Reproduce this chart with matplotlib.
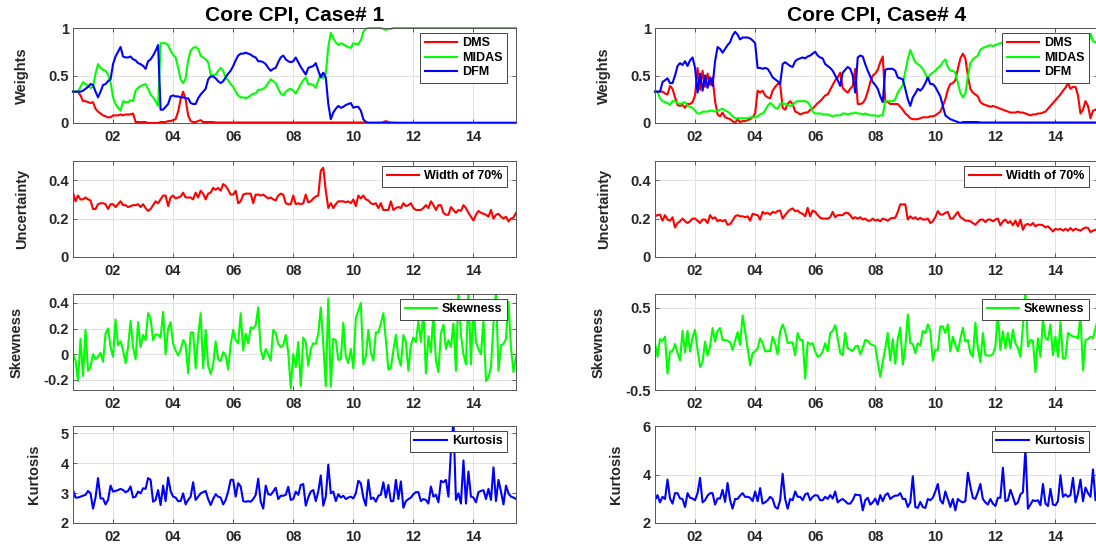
import numpy as np
import matplotlib.pyplot as plt

plt.rcParams['font.family'] = ['Liberation Sans', 'DejaVu Sans']
plt.rcParams['font.weight'] = 'bold'
plt.rcParams['axes.labelweight'] = 'bold'

# monthly data, Sep 2000 .. Jun 2015
START_YEAR = 2000
START_MONTH = 9

# ---------------- Case 1 ----------------
dms_1 = [
    .33, .33, .33, .29, .23, .23, .22, .21, .22, .15,
    .12, .10, .08, .07, .06, .06, .08, .08, .08, .09,
    .08, .09, .09, .09, .10, .01, .01, .01, .01, .01,
    .00, .00, .00, .00, .00, .01, .01, .01, .02, .02,
    .03, .04, .12, .25, .33, .25, .08, .02, .01, .01,
    .02, .03, .01, .01, .01, .01, .01, .005, .005, .005,
    .005, .005, .005, .005, .005, .005, .005, .005, .005, .005,
    .005, .005, .005, .005, .005, .005, .005, .005, .005, .005,
    .005, .005, .005, .005, .005, .005, .005, .005, .005, .005,
    .005, .005, .005, .005, .005, .005, .005, .005, .005, .005,
    .005, .005, .005, .005, .005, .005, .005, .005, .005, .005,
    .005, .005, .005, .005, .005, .005, .005, .005, .005, .005,
    .005, .005, .005, .005, .01, .02, .01, .005, .005, .005,
    .003, .003, .003, .003, .003, .003, .003, .003, .003, .003,
    .003, .003, .003, .003, .003, .003, .003, .003, .003, .003,
    .003, .003, .003, .003, .003, .003, .003, .003, .003, .003,
    .003, .003, .003, .003, .003, .003, .003, .003, .003, .003,
    .003, .003, .003, .003, .003, .003, .003, .003,
]
midas_1 = [
    .33, .33, .33, .38, .43, .41, .39, .37, .38, .52,
    .62, .58, .56, .55, .51, .43, .27, .20, .16, .13,
    .23, .22, .22, .24, .23, .34, .37, .39, .40, .41,
    .36, .30, .27, .23, .18, .84, .84, .84, .82, .76,
    .72, .69, .58, .46, .42, .47, .66, .76, .79, .80,
    .78, .71, .69, .67, .64, .51, .50, .51, .55, .58,
    .55, .48, .45, .41, .38, .33, .29, .27, .27, .26,
    .27, .29, .31, .31, .35, .35, .36, .38, .42, .46,
    .44, .42, .36, .31, .29, .33, .35, .36, .34, .31,
    .36, .41, .45, .48, .41, .41, .40, .37, .45, .51,
    .47, .52, .80, .95, .89, .85, .82, .84, .83, .81,
    .80, .79, .84, .83, .83, .87, .96, .99, 1.0, 1.0,
    1.0, 1.0, 1.0, 1.0, .99, .98, .99, .99, 1.0, 1.0,
    1.0, 1.0, 1.0, 1.0, 1.0, 1.0, 1.0, 1.0, 1.0, 1.0,
    1.0, 1.0, 1.0, 1.0, 1.0, 1.0, 1.0, 1.0, 1.0, 1.0,
    1.0, 1.0, 1.0, 1.0, 1.0, 1.0, 1.0, 1.0, 1.0, 1.0,
    1.0, 1.0, 1.0, 1.0, 1.0, 1.0, 1.0, 1.0, 1.0, 1.0,
    1.0, 1.0, 1.0, 1.0, 1.0, 1.0, 1.0, 1.0,
]
dfm_1 = [
    .33, .33, .33, .33, .34, .36, .38, .41, .40, .33,
    .27, .33, .40, .41, .44, .46, .62, .70, .75, .80,
    .70, .69, .69, .70, .67, .66, .63, .62, .60, .57,
    .65, .67, .71, .76, .82, .14, .14, .17, .20, .28,
    .29, .28, .28, .27, .27, .26, .26, .21, .20, .20,
    .26, .30, .33, .36, .46, .49, .49, .47, .44, .42,
    .44, .48, .52, .55, .60, .66, .71, .73, .73, .74,
    .73, .72, .70, .69, .65, .65, .64, .62, .58, .55,
    .57, .58, .64, .69, .71, .67, .65, .64, .65, .69,
    .64, .59, .55, .51, .58, .59, .60, .63, .55, .48,
    .53, .48, .20, .04, .11, .15, .18, .16, .17, .19,
    .20, .21, .16, .17, .17, .13, .04, .01, 0.0, 0.0,
    0.0, 0.0, 0.0, 0.0, 0.0, 0.0, 0.0, 0.0, 0.0, 0.0,
    0.0, 0.0, 0.0, 0.0, 0.0, 0.0, 0.0, 0.0, 0.0, 0.0,
    0.0, 0.0, 0.0, 0.0, 0.0, 0.0, 0.0, 0.0, 0.0, 0.0,
    0.0, 0.0, 0.0, 0.0, 0.0, 0.0, 0.0, 0.0, 0.0, 0.0,
    0.0, 0.0, 0.0, 0.0, 0.0, 0.0, 0.0, 0.0, 0.0, 0.0,
    0.0, 0.0, 0.0, 0.0, 0.0, 0.0, 0.0, 0.0,
]
width_1 = [
    .335, .29, .32, .30, .30, .31, .30, .295, .25, .25,
    .275, .28, .28, .275, .25, .275, .275, .26, .275, .29,
    .27, .27, .26, .265, .27, .27, .275, .26, .275, .255,
    .24, .25, .27, .29, .28, .30, .32, .32, .265, .31,
    .32, .305, .31, .315, .335, .31, .31, .31, .30, .335,
    .31, .345, .33, .30, .33, .335, .36, .35, .36, .345,
    .38, .37, .35, .325, .325, .345, .28, .29, .325, .33,
    .33, .33, .28, .325, .325, .32, .325, .315, .305, .31,
    .30, .295, .32, .33, .325, .28, .275, .275, .32, .275,
    .28, .275, .28, .325, .285, .29, .305, .315, .32, .45,
    .465, .345, .255, .28, .255, .275, .29, .29, .29, .285,
    .29, .28, .30, .265, .32, .305, .32, .30, .295, .28,
    .275, .28, .255, .28, .245, .245, .245, .29, .245, .255,
    .26, .255, .28, .265, .27, .28, .255, .245, .245, .245,
    .255, .27, .255, .29, .27, .245, .27, .27, .23, .22,
    .22, .26, .245, .23, .245, .24, .27, .255, .23, .21,
    .19, .22, .24, .23, .225, .22, .21, .245, .20, .22,
    .225, .21, .20, .21, .185, .20, .205, .23,
]
skew_1 = [
    0.0, -0.05, -0.21, 0.12, -0.17, 0.19, -0.13, -0.10, 0.0, -0.04,
    -0.02, 0.01, -0.06, 0.16, 0.20, 0.055, -0.02, 0.27, 0.07, 0.10,
    0.03, -0.07, 0.055, 0.26, 0.055, -0.04, 0.25, 0.055, 0.15, 0.11,
    0.32, 0.28, 0.11, 0.155, 0.15, 0.13, 0.33, 0.0, 0.20, 0.25,
    0.08, 0.03, -0.01, 0.03, 0.11, 0.08, -0.15, 0.17, 0.17, -0.11,
    0.14, 0.32, -0.11, 0.19, -0.09, -0.155, -0.08, 0.10, -0.04, -0.055,
    0.015, -0.01, -0.12, 0.075, 0.19, 0.11, 0.085, 0.32, 0.03, 0.16,
    0.085, 0.21, 0.20, 0.225, 0.365, 0.035, -0.04, 0.04, 0.0, -0.05,
    0.19, 0.165, 0.08, 0.055, 0.07, 0.15, 0.015, -0.265, 0.0, -0.10,
    0.095, -0.25, 0.13, 0.095, -0.09, 0.04, 0.085, 0.08, 0.16, 0.365,
    0.08, -0.25, 0.435, -0.255, 0.12, 0.11, -0.045, -0.04, 0.245, -0.02,
    -0.07, 0.04, -0.11, 0.28, 0.34, 0.40, -0.08, -0.02, 0.19, 0.015,
    -0.05, 0.17, 0.17, 0.24, 0.32, 0.11, -0.12, -0.11, 0.03, 0.15,
    -0.025, -0.09, 0.15, 0.095, -0.13, 0.07, 0.13, 0.095, 0.26, 0.095,
    0.34, -0.15, 0.14, 0.015, 0.32, -0.05, -0.14, 0.16, 0.23, 0.04,
    0.11, 0.055, 0.24, -0.13, 0.50, 0.15, 0.0, -0.08, 0.50, -0.08,
    0.40, 0.095, 0.04, 0.0, 0.265, -0.21, -0.18, -0.10, 0.24, 0.50,
    -0.13, 0.07, 0.08, 0.12, 0.41, 0.05, -0.14, -0.02,
]
kurt_1 = [
    3.10, 2.85, 2.85, 2.88, 2.91, 2.94, 3.07, 2.99, 2.48, 2.85,
    3.50, 2.82, 2.82, 2.62, 2.77, 3.25, 3.05, 3.07, 3.10, 3.14,
    3.10, 3.03, 3.07, 3.22, 2.85, 2.88, 3.05, 2.99, 3.16, 3.14,
    3.50, 3.44, 2.71, 2.77, 3.10, 2.60, 3.25, 2.73, 3.52, 3.07,
    2.88, 2.85, 2.73, 2.73, 2.99, 2.62, 2.77, 2.88, 3.36, 2.77,
    2.88, 2.99, 3.03, 3.07, 2.80, 2.60, 2.80, 2.96, 2.88, 2.85,
    2.62, 2.77, 3.05, 3.44, 3.44, 2.88, 3.33, 3.22, 2.73, 2.71,
    2.73, 2.71, 2.80, 2.94, 3.48, 2.71, 2.48, 3.25, 2.96, 2.94,
    3.05, 3.18, 2.80, 2.91, 2.91, 2.94, 3.21, 2.77, 2.80, 3.05,
    2.94, 3.27, 3.30, 2.58, 2.85, 3.05, 3.10, 2.73, 3.05, 3.59,
    2.58, 2.88, 3.95, 2.99, 3.05, 2.73, 2.96, 2.85, 2.91, 2.80,
    2.85, 2.88, 2.82, 2.99, 3.41, 3.33, 2.85, 2.58, 3.44, 2.80,
    2.85, 2.71, 2.91, 2.94, 3.36, 2.85, 3.27, 2.73, 2.73, 3.44,
    2.80, 3.39, 2.51, 2.73, 2.80, 2.85, 2.96, 3.03, 3.03, 2.73,
    2.80, 2.77, 2.65, 3.22, 2.88, 2.94, 2.69, 3.41, 3.36, 3.44,
    2.88, 4.40, 5.40, 2.77, 2.99, 2.65, 4.09, 2.65, 3.72, 2.88,
    2.85, 2.69, 3.03, 3.07, 3.10, 2.80, 3.14, 2.77, 3.86, 2.73,
    3.44, 3.05, 2.62, 3.25, 2.99, 2.88, 2.85, 2.80,
]

# ---------------- Case 4 ----------------
dms_4 = [
    .33, .33, .33, .33, .31, .30, .39, .36, .27, .19,
    .18, .19, .16, .20, .20, .22, .29, .58, .35, .55,
    .38, .52, .40, .48, .23, .09, .07, .11, .06, .05,
    .04, .02, .00, .04, .01, .02, .02, .03, .04, .06,
    .10, .34, .32, .34, .29, .27, .26, .34, .38, .41,
    .41, .16, .14, .20, .23, .20, .12, .11, .09, .10,
    .11, .11, .14, .15, .18, .21, .23, .26, .29, .30,
    .35, .40, .45, .48, .53, .37, .34, .32, .36, .39,
    .57, .20, .20, .21, .25, .33, .43, .50, .52, .56,
    .64, .70, .23, .22, .20, .20, .20, .20, .17, .14,
    .10, .08, .05, .04, .04, .04, .05, .06, .06, .06,
    .07, .07, .08, .10, .12, .18, .25, .35, .41, .42,
    .45, .57, .68, .73, .68, .50, .36, .32, .30, .28,
    .22, .20, .19, .18, .17, .18, .17, .16, .15, .14,
    .13, .12, .11, .11, .11, .12, .11, .11, .10, .09,
    .08, .09, .09, .10, .10, .11, .12, .15, .18, .21,
    .24, .27, .30, .34, .37, .42, .36, .38, .38, .29,
    .10, .14, .23, .18, .05, .13, .14, .16,
]
midas_4 = [
    .33, .33, .26, .23, .22, .21, .19, .23, .23, .21,
    .20, .21, .22, .18, .17, .16, .13, .10, .10, .12,
    .12, .12, .13, .13, .12, .13, .14, .15, .13, .12,
    .10, .07, .05, .05, .05, .05, .05, .05, .06, .06,
    .06, .07, .09, .10, .13, .18, .21, .19, .16, .15,
    .20, .21, .20, .19, .18, .19, .22, .23, .23, .23,
    .23, .22, .18, .12, .10, .10, .10, .09, .09, .09,
    .08, .07, .08, .08, .08, .10, .10, .09, .10, .10,
    .11, .10, .10, .09, .10, .09, .08, .08, .08, .07,
    .08, .08, .23, .23, .23, .23, .25, .32, .36, .40,
    .54, .67, .77, .70, .64, .62, .60, .57, .52, .46,
    .51, .53, .55, .58, .60, .64, .67, .59, .55, .55,
    .53, .42, .32, .27, .31, .49, .63, .67, .69, .71,
    .77, .79, .80, .81, .82, .81, .82, .83, .84, .85,
    .86, .87, .88, .88, .88, .87, .88, .88, .89, .90,
    .91, .90, .90, .89, .89, .88, .87, .84, .81, .78,
    .75, .72, .69, .65, .62, .57, .63, .61, .61, .70,
    .89, .85, .76, .81, .94, .86, .85, .83,
]
dfm_4 = [
    .33, .33, .33, .43, .45, .47, .42, .42, .50, .60,
    .63, .61, .65, .60, .66, .69, .58, .32, .52, .34,
    .50, .37, .48, .39, .65, .80, .78, .74, .78, .82,
    .85, .92, .96, .93, .88, .90, .90, .90, .89, .87,
    .84, .58, .58, .57, .58, .57, .53, .48, .46, .44,
    .41, .62, .64, .62, .60, .59, .65, .67, .68, .69,
    .68, .70, .71, .73, .75, .71, .69, .68, .62, .60,
    .58, .55, .50, .45, .39, .53, .56, .59, .57, .50,
    .32, .69, .71, .70, .62, .55, .49, .43, .40, .36,
    .28, .22, .56, .57, .57, .57, .55, .48, .47, .46,
    .36, .25, .18, .27, .31, .36, .34, .37, .42, .48,
    .41, .41, .38, .33, .28, .18, .08, .06, .04, .03,
    .02, .01, .00, .01, .01, .01, .01, .01, .01, .01,
    .005, .005, .005, .005, .005, .005, .005, .005, .005, .005,
    .005, .005, .005, .005, .005, .005, .005, .005, .005, .005,
    .005, .005, .005, .005, .005, .005, .005, .005, .005, .005,
    .005, .005, .005, .005, .005, .005, .005, .005, .005, .005,
    .005, .005, .005, .005, .005, .005, .005, .005,
]
width_4 = [
    .212, .218, .221, .189, .218, .195, .189, .207, .154, .177,
    .186, .20, .186, .177, .186, .20, .20, .189, .177, .195,
    .195, .177, .218, .20, .207, .186, .193, .186, .193, .168,
    .172, .189, .212, .218, .212, .212, .207, .212, .189, .225,
    .221, .218, .195, .235, .225, .23, .221, .235, .23, .239,
    .242, .20, .218, .235, .247, .253, .239, .242, .23, .225,
    .212, .256, .212, .242, .235, .218, .204, .20, .20, .20,
    .207, .235, .207, .218, .218, .218, .23, .23, .218, .20,
    .207, .20, .207, .195, .20, .189, .189, .20, .189, .195,
    .186, .20, .195, .189, .20, .204, .204, .235, .274, .274,
    .274, .195, .212, .20, .207, .195, .204, .195, .195, .20,
    .177, .186, .207, .239, .221, .221, .23, .235, .20, .20,
    .218, .235, .207, .20, .189, .189, .186, .177, .168, .182,
    .195, .195, .182, .195, .195, .186, .195, .20, .165, .186,
    .195, .177, .186, .165, .189, .16, .195, .142, .168, .172,
    .165, .177, .16, .168, .168, .165, .154, .16, .147, .133,
    .147, .142, .147, .137, .147, .137, .151, .137, .147, .142,
    .137, .147, .154, .151, .13, .137, .142, .145,
]
skew_4 = [
    0.07, -0.095, 0.12, 0.10, 0.15, -0.30, -0.03, -0.03, 0.06, -0.05,
    -0.14, 0.22, -0.04, 0.22, -0.03, 0.14, 0.235, -0.01, -0.22, -0.16,
    0.09, -0.08, 0.03, 0.255, 0.09, 0.22, 0.255, 0.11, 0.11, 0.10,
    0.08, -0.01, 0.10, 0.205, 0.05, 0.41, 0.215, 0.01, -0.20, -0.05,
    -0.03, 0.01, 0.13, 0.07, -0.03, -0.025, -0.025, 0.15, 0.07, -0.065,
    0.215, 0.30, 0.215, 0.07, 0.08, 0.08, -0.075, 0.195, 0.11, 0.11,
    -0.36, 0.08, 0.06, 0.07, -0.03, -0.095, -0.08, -0.03, 0.07, -0.03,
    0.195, 0.22, 0.29, 0.13, -0.05, -0.075, 0.195, 0.01, -0.01, -0.025,
    0.03, 0.04, -0.065, 0.01, 0.11, 0.10, 0.06, 0.05, 0.03, -0.16,
    -0.34, -0.16, 0.01, 0.195, -0.14, 0.12, -0.18, 0.13, 0.26, -0.19,
    0.01, 0.42, 0.07, 0.06, -0.05, 0.07, 0.04, 0.22, 0.195, 0.30,
    0.22, -0.14, -0.01, -0.01, 0.275, 0.275, 0.195, 0.30, -0.03, 0.15,
    0.05, -0.03, 0.12, 0.26, 0.09, 0.11, -0.05, -0.095, 0.32, 0.01,
    -0.16, 0.195, -0.075, -0.08, -0.08, -0.065, 0.03, 0.44, -0.01, 0.215,
    0.01, 0.195, 0.01, 0.235, 0.07, 0.01, -0.095, 0.275, 0.70, 0.03,
    0.11, 0.10, -0.28, 0.13, -0.095, 0.36, 0.13, 0.11, 0.30, -0.075,
    0.15, -0.095, 0.33, -0.115, -0.115, 0.195, 0.17, 0.15, 0.15, 0.13,
    0.40, -0.26, 0.11, 0.12, 0.15, 0.13, 0.255, 0.36,
]
kurt_4 = [
    2.94, 3.15, 2.85, 3.08, 2.99, 3.79, 3.01, 2.80, 3.23, 3.23,
    3.01, 2.99, 2.66, 3.23, 3.04, 3.01, 2.94, 3.23, 3.86, 2.85,
    2.94, 3.13, 3.23, 3.23, 2.76, 3.01, 3.01, 3.37, 2.87, 3.65,
    2.94, 2.59, 2.99, 2.99, 3.13, 3.23, 3.08, 3.08, 3.04, 2.90,
    3.30, 2.90, 3.44, 2.80, 2.85, 2.94, 3.08, 2.99, 2.66, 2.59,
    2.94, 4.03, 2.99, 2.59, 2.99, 2.94, 3.30, 3.08, 3.08, 2.94,
    3.18, 3.23, 2.94, 3.08, 3.15, 3.13, 2.94, 2.94, 3.08, 2.99,
    3.15, 3.01, 3.30, 2.85, 2.94, 2.99, 2.90, 2.80, 2.80, 2.94,
    3.18, 3.15, 3.15, 2.52, 2.94, 3.04, 2.76, 2.85, 3.01, 2.76,
    3.15, 2.90, 3.15, 3.23, 2.99, 3.08, 3.13, 3.13, 3.23, 2.99,
    2.99, 2.66, 2.85, 3.93, 2.66, 2.62, 2.87, 2.66, 2.62, 2.99,
    2.94, 3.04, 3.30, 3.61, 2.94, 2.80, 3.30, 2.99, 2.66, 2.99,
    2.52, 2.99, 2.90, 2.85, 2.90, 4.07, 3.51, 3.04, 2.99, 3.27,
    3.61, 2.99, 2.85, 2.76, 2.99, 2.80, 2.70, 3.04, 3.04, 4.28,
    2.90, 2.94, 3.37, 3.08, 2.76, 2.85, 3.18, 3.27, 5.06, 2.59,
    2.76, 2.94, 2.90, 2.94, 2.73, 3.61, 2.80, 2.70, 3.41, 2.76,
    2.73, 2.90, 3.97, 3.08, 3.18, 3.08, 3.15, 3.86, 2.85, 3.23,
    3.79, 2.90, 3.46, 3.23, 3.08, 4.21, 2.94, 2.99,
]

xtick_years = [2002, 2004, 2006, 2008, 2010, 2012, 2014]
xtick_labels = ['02', '04', '06', '08', '10', '12', '14']
XLIM = (2000 + 8 / 12, 2015 + 5 / 12)

TXT = '#262626'
FIG_W, FIG_H = 1096, 544


def months(vals):
    return START_YEAR + (START_MONTH - 1 + np.arange(len(vals))) / 12.0


def make_axes(fig, left, top, width, height):
    return fig.add_axes([left / FIG_W, 1 - (top + height) / FIG_H,
                         width / FIG_W, height / FIG_H])


def style(ax, ylim, yticks, ylabels, ylabel):
    ax.set_xlim(*XLIM)
    ax.set_ylim(*ylim)
    ax.set_xticks(xtick_years)
    ax.set_xticklabels(xtick_labels)
    ax.set_yticks(yticks)
    ax.set_yticklabels(ylabels)
    ax.grid(True, color='#dcdcdc', linewidth=0.6)
    ax.set_axisbelow(True)
    ax.tick_params(direction='in', length=3, width=0.5, colors=TXT,
                   labelsize=10.5, top=True, right=True)
    ax.tick_params(axis='x', pad=5)
    ax.tick_params(axis='y', pad=3)
    for s in ax.spines.values():
        s.set_color('#555555')
        s.set_linewidth(0.7)
    ax.set_ylabel(ylabel, fontsize=10.5, fontweight='bold', color=TXT, labelpad=14)


def add_legend(ax):
    h = ax.get_position().height * FIG_H
    w = ax.get_position().width * FIG_W
    leg = ax.legend(loc='upper right', bbox_to_anchor=(1 - 9 / w, 1 - 5 / h),
                    borderaxespad=0, fontsize=9, fancybox=False,
                    edgecolor=TXT, framealpha=1, handlelength=2.6,
                    handletextpad=0.4, borderpad=0.35, labelspacing=0.2)
    leg.get_frame().set_linewidth(0.6)


fig = plt.figure(figsize=(FIG_W / 100, FIG_H / 100), dpi=100)

cols = [
    (73, 'Core CPI, Case# 1', dms_1, midas_1, dfm_1, width_1, skew_1, kurt_1,
     (-0.28, 0.47), [-0.2, 0, 0.2, 0.4], ['-0.2', '0', '0.2', '0.4'],
     (2, 5.24), [2, 3, 4, 5], ['2', '3', '4', '5']),
    (655, 'Core CPI, Case# 4', dms_4, midas_4, dfm_4, width_4, skew_4, kurt_4,
     (-0.5, 0.67), [-0.5, 0, 0.5], ['-0.5', '0', '0.5'],
     (2, 6), [2, 4, 6], ['2', '4', '6']),
]
rows = [(28, 95), (161, 96), (294, 96), (426, 97)]
AX_W = 443

for (left, title, dms, midas, dfm, wid, skw, krt,
     sk_lim, sk_ticks, sk_labels, ku_lim, ku_ticks, ku_labels) in cols:
    # weights
    ax = make_axes(fig, left, rows[0][0], AX_W, rows[0][1])
    ax.plot(months(dms), dms, color='red', lw=1.5, label='DMS', clip_on=False)
    ax.plot(months(midas), midas, color='#00ff00', lw=1.5, label='MIDAS', clip_on=False)
    ax.plot(months(dfm), dfm, color='blue', lw=1.5, label='DFM', clip_on=False)
    style(ax, (0, 1), [0, 0.5, 1], ['0', '0.5', '1'], 'Weights')
    add_legend(ax)
    ax.set_title(title, fontsize=15, fontweight='bold', color='black', pad=5)

    # uncertainty
    ax = make_axes(fig, left, rows[1][0], AX_W, rows[1][1])
    ax.plot(months(wid), wid, color='red', lw=1.5, label='Width of 70%')
    style(ax, (0, 0.5), [0, 0.2, 0.4], ['0', '0.2', '0.4'], 'Uncertainty')
    add_legend(ax)

    # skewness
    ax = make_axes(fig, left, rows[2][0], AX_W, rows[2][1])
    ax.plot(months(skw), skw, color='#00ff00', lw=1.5, label='Skewness')
    style(ax, sk_lim, sk_ticks, sk_labels, 'Skewness')
    add_legend(ax)

    # kurtosis
    ax = make_axes(fig, left, rows[3][0], AX_W, rows[3][1])
    ax.plot(months(krt), krt, color='blue', lw=1.5, label='Kurtosis')
    style(ax, ku_lim, ku_ticks, ku_labels, 'Kurtosis')
    add_legend(ax)

fig.savefig('out.png', dpi=100, facecolor='white')
